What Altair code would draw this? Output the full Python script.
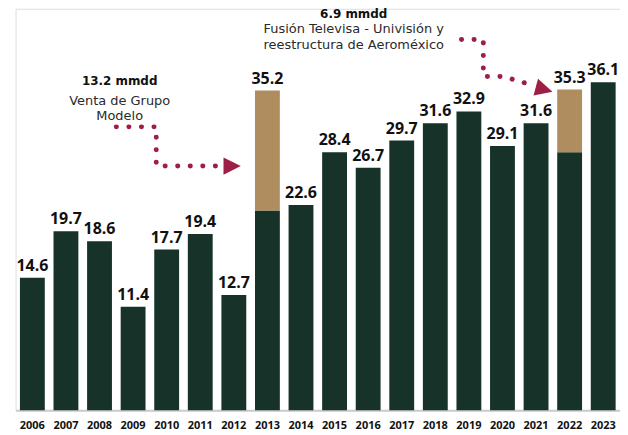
import altair as alt
import pandas as pd

years = [str(y) for y in range(2006, 2024)]
totals = [14.6, 19.7, 18.6, 11.4, 17.7, 19.4, 12.7, 35.2, 22.6, 28.4,
          26.7, 29.7, 31.6, 32.9, 29.1, 31.6, 35.3, 36.1]
extras = [0, 0, 0, 0, 0, 0, 0, 13.2, 0, 0, 0, 0, 0, 0, 0, 0, 6.9, 0]

# annotation texts
ann_text = ["13.2 mmdd", "Venta de Grupo", "Modelo",
            "6.9 mmdd", "Fusión Televisa - Univisión y", "reestructura de Aeroméxico"]
ann_bold = [True, False, False, True, False, False]
ann_x = [2008.6, 2008.6, 2008.6, 2015.57, 2015.57, 2015.57]
ann_y = [36.3, 34.1, 32.4, 43.6, 42.0, 40.2]

# dotted arrow paths (x in year units, y in value units)
path_id = [1, 1, 1, 1, 2, 2, 2, 2, 2]
path_x = [2008.5, 2009.69, 2009.69, 2011.6, 2018.78, 2019.43, 2019.43, 2020.02, 2020.82]
path_y = [31.2, 31.2, 26.9, 26.9, 40.81, 40.81, 36.75, 36.75, 35.87]
head_x = [2011.95, 2021.24]
head_y = [26.88, 35.32]
head_angle = [0, 15]

GREEN = "#163229"
TAN = "#B08D5E"
RED = "#9E1F45"
FONT = "Open Sans"
AFONT = "DejaVu Sans"

df = pd.DataFrame({
    "year": years,
    "total": totals,
    "extra": extras,
})
df["base"] = df["total"] - df["extra"]
df["label"] = [f"{v:.1f}" for v in totals]
df_extra = df[df["extra"] > 0]

ann = pd.DataFrame({"text": ann_text, "b": ann_bold, "x": ann_x, "y": ann_y})
paths = pd.DataFrame({"pid": path_id, "x": path_x, "y": path_y,
                      "o": list(range(len(path_x)))})
heads = pd.DataFrame({"x": head_x, "y": head_y, "a": head_angle})

yscale = alt.Scale(domain=[0, 44.2], nice=False, zero=True)
xband = alt.X("year:N", sort=years, title=None,
              scale=alt.Scale(paddingInner=0.26, paddingOuter=0.13),
              axis=alt.Axis(labelAngle=0, labelFontWeight="bold", labelFontSize=11,
                            labelColor="#111111", labelFont=FONT, ticks=False,
                            domainColor="#cccccc", domainWidth=2, labelPadding=9))
xlin = alt.X("x:Q", scale=alt.Scale(domain=[2005.5, 2023.5], nice=False, zero=False),
             axis=None)

bars = alt.Chart(df).mark_bar(color=GREEN).encode(
    x=xband, y=alt.Y("base:Q", scale=yscale, axis=None))
ext = alt.Chart(df_extra).mark_bar(color=TAN).encode(
    x=xband, y=alt.Y("base:Q", scale=yscale, axis=None), y2="total:Q")
labels = alt.Chart(df).mark_text(font=FONT, fontWeight="bold", fontSize=16,
                                 color="#111111", baseline="bottom", dy=-4).encode(
    x=xband, y=alt.Y("total:Q", scale=yscale, axis=None), text="label:N")

bar_layer = alt.layer(bars, ext, labels)

dots = alt.Chart(paths).mark_line(color=RED, strokeWidth=5, strokeCap="round",
                                  strokeDash=[0.1, 12.5]).encode(
    x=xlin, y=alt.Y("y:Q", scale=yscale, axis=None), detail="pid:N", order="o:Q")
arrow = alt.Chart(heads).mark_point(
    shape="M-1,-1L1,0L-1,1Z", filled=True, color=RED, opacity=1, size=300,
    strokeWidth=0).encode(
    x=xlin, y=alt.Y("y:Q", scale=yscale, axis=None), angle=alt.Angle("a:Q", scale=None))
txt_b = alt.Chart(ann[ann["b"]]).mark_text(font=AFONT, fontSize=12, color="#111111",
                                           fontWeight="bold", baseline="middle").encode(
    x=xlin, y=alt.Y("y:Q", scale=yscale, axis=None), text="text:N")
txt_n = alt.Chart(ann[~ann["b"]]).mark_text(font=AFONT, fontSize=13, color="#2a2a2a",
                                            baseline="middle").encode(
    x=xlin, y=alt.Y("y:Q", scale=yscale, axis=None), text="text:N")

ann_layer = alt.layer(dots, arrow, txt_b, txt_n)

chart = alt.layer(bar_layer, ann_layer).resolve_scale(x="independent").properties(
    width=606.6, height=403,
    autosize=alt.AutoSizeParams(type="none"),
    padding={"left": 7.6, "top": 0, "right": 0, "bottom": 24},
).configure_view(stroke=None).configure(background="white")

chart.save("out.html", embed_options={"renderer": "svg", "actions": False})
